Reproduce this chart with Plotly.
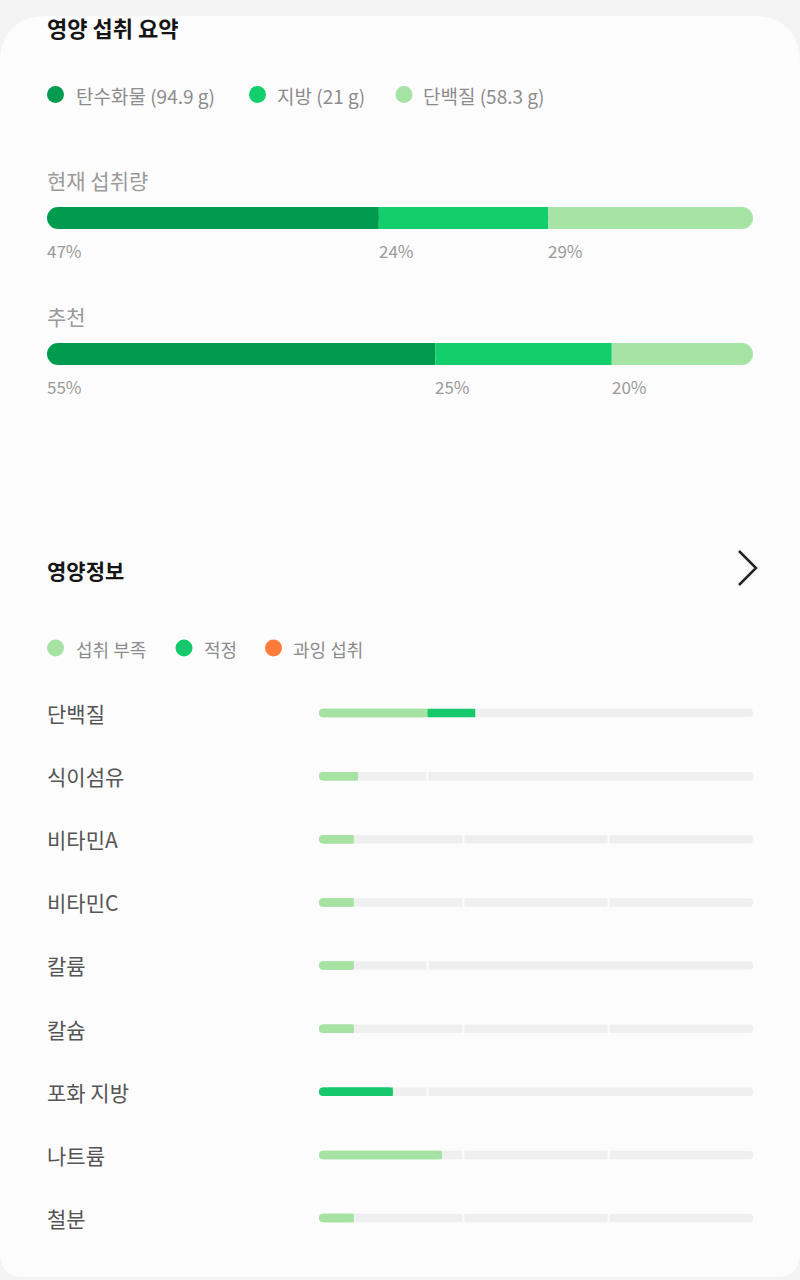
import plotly.graph_objects as go

# ---------------- DATA ----------------
macro_names = ["탄수화물", "지방", "단백질"]
macro_grams = [94.9, 21, 58.3]
summary_rows = ["현재 섭취량", "추천"]
current_pct = [47, 24, 29]
recommended_pct = [55, 25, 20]

nutrients = ["단백질", "식이섬유", "비타민A", "비타민C", "칼륨", "칼슘", "포화 지방", "나트륨", "철분"]
# zone boundaries (percent of the track) and status of each zone
zone_bounds = [[25], [25], [33.3, 66.7], [33.3, 66.7], [25], [33.3, 66.7], [25], [33.3, 66.7], [33.3, 66.7]]
zone_status = [
    ["low", "ok"], ["low", "ok"], ["low", "ok", "high"], ["low", "ok", "high"],
    ["low", "ok"], ["low", "ok", "high"], ["ok", "high"], ["low", "ok", "high"], ["low", "ok", "high"],
]
intake_pct = [36, 9, 8, 8, 8, 8, 17, 28.3, 8]
status_keys = ["low", "ok", "high"]
status_labels = ["섭취 부족", "적정", "과잉 섭취"]

# ---------------- STYLE ----------------
W, H = 800, 1280
FONT = "Noto Sans CJK KR"
macro_colors = ["#019b50", "#12cf6c", "#a5e4a5"]
status_colors = {"low": "#a6e3a3", "ok": "#14c86b", "high": "#ff7b3c"}
TRACK = "#efefef"
CARD = "#fcfcfc"
PAGE = "#f3f3f3"

TOP_X0, TOP_X1 = 47, 753
NUT_X0, NUT_X1 = 319, 753
TOP_R = 11          # px corner radius of summary bars
NUT_R = 4           # px corner radius of nutrient bars
GAP = 2             # px gap between track zones
top_r_u = TOP_R / (TOP_X1 - TOP_X0) * 100
nut_r_u = NUT_R / (NUT_X1 - NUT_X0) * 100
gap_u = GAP / (NUT_X1 - NUT_X0) * 100


def px(x):
    return x / W


def py(y):
    return 1 - y / H


fig = go.Figure()


def hbar(y, x, base, color, cr, width, xa, ya):
    fig.add_trace(go.Bar(
        y=y, x=x, base=base, orientation="h", width=width,
        marker=dict(color=color, cornerradius=cr, line=dict(width=0)),
        xaxis=xa, yaxis=ya, hoverinfo="skip", showlegend=False,
    ))


# ---- summary stacked bars ----
summary_vals = [current_pct, recommended_pct]
starts = [[sum(r[:k]) for k in range(3)] for r in summary_vals]
TOP_W = 22 / 136
# rounded caps at both outer ends
hbar(summary_rows, [r[0] for r in summary_vals], [0] * 2, macro_colors[0], TOP_R, TOP_W, "x", "y")
hbar(summary_rows, [r[2] for r in summary_vals], [s[2] for s in starts], macro_colors[2], TOP_R, TOP_W, "x", "y")
# square segments on top
for k in range(3):
    b = [s[k] for s in starts]
    v = [r[k] for r in summary_vals]
    if k == 0:
        b = [bb + top_r_u for bb in b]
        v = [vv - top_r_u for vv in v]
    if k == 2:
        v = [vv - top_r_u for vv in v]
    hbar(summary_rows, v, b, macro_colors[k], 0, TOP_W, "x", "y")

annotations = []
for r, row in enumerate(summary_rows):
    annotations.append(dict(x=0, y=row, xref="x", yref="y", yshift=38, xanchor="left", xshift=-2,
                            text=row, showarrow=False, font=dict(family=FONT, size=21, color="#9a9a9a")))
    for k in range(3):
        annotations.append(dict(x=starts[r][k], y=row, xref="x", yref="y", yshift=-32, xanchor="left", xshift=-2,
                                text=f"{summary_vals[r][k]}%", showarrow=False,
                                font=dict(family=FONT, size=17, color="#9a9a9a")))

# ---- nutrient bars ----
NUT_W = 8.5 / 63.125
# full rounded track
hbar(nutrients, [100] * len(nutrients), [0] * len(nutrients), TRACK, NUT_R, NUT_W, "x2", "y2")
# zone dividers
div_y, div_b = [], []
for name, bnds in zip(nutrients, zone_bounds):
    for bd in bnds:
        div_y.append(name)
        div_b.append(bd - gap_u / 2)
hbar(div_y, [gap_u] * len(div_y), div_b, CARD, 0, NUT_W * 1.2, "x2", "y2")

# intake fill
cap_y, cap_x, cap_c = [], [], []
seg_y, seg_x, seg_b, seg_c = [], [], [], []
for name, bnds, sts, val in zip(nutrients, zone_bounds, zone_status, intake_pct):
    edges = [0] + bnds + [100]
    for i in range(len(edges) - 1):
        a, b = edges[i], edges[i + 1]
        if val <= a:
            break
        e = min(val, b)
        col = status_colors[sts[i]]
        if i == 0:
            cap_y.append(name); cap_x.append(e); cap_c.append(col)
            a = a + nut_r_u
        seg_y.append(name); seg_b.append(a); seg_x.append(e - a); seg_c.append(col)
hbar(cap_y, cap_x, [0] * len(cap_y), cap_c, NUT_R, NUT_W, "x2", "y2")
hbar(seg_y, seg_x, seg_b, seg_c, 0, NUT_W, "x2", "y2")

for name in nutrients:
    annotations.append(dict(x=px(47), y=name, xref="paper", yref="y2", xanchor="left", xshift=-2,
                            text=name, showarrow=False, font=dict(family=FONT, size=21, color="#555555")))

# ---- titles ----
annotations.append(dict(x=px(47), y=py(27), xref="paper", yref="paper", xanchor="left", yanchor="middle",
                        xshift=-2, text="<b>영양 섭취 요약</b>", showarrow=False,
                        font=dict(family=FONT, size=22, color="#151515")))
annotations.append(dict(x=px(47), y=py(570), xref="paper", yref="paper", xanchor="left", yanchor="middle",
                        xshift=-2, text="<b>영양정보</b>", showarrow=False,
                        font=dict(family=FONT, size=21, color="#151515")))

shapes = []
# card background
r1, r2 = 48, 24
top, bot = 16, 1277
card_pts = (f"M {px(0)},{py(top + r1)} Q {px(0)},{py(top)} {px(r1)},{py(top)} "
            f"L {px(W - r1)},{py(top)} Q {px(W)},{py(top)} {px(W)},{py(top + r1)} "
            f"L {px(W)},{py(bot - r2)} Q {px(W)},{py(bot)} {px(W - r2)},{py(bot)} "
            f"L {px(r2)},{py(bot)} Q {px(0)},{py(bot)} {px(0)},{py(bot - r2)} Z")
shapes.append(dict(type="path", path=card_pts, xref="paper", yref="paper", fillcolor=CARD,
                   line=dict(width=0), layer="below"))
# chevron
shapes.append(dict(type="path", xref="paper", yref="paper",
                   path=f"M {px(739)},{py(551)} L {px(756)},{py(568)} L {px(739)},{py(585)}",
                   line=dict(color="#222222", width=2.5), layer="above"))

# ---- legends (dots + labels) ----
leg1_dot_x = [55.5, 257.5, 404]
leg1_text_x = [74, 275, 421]
leg1_y = 96
for k in range(3):
    cx = leg1_dot_x[k]
    shapes.append(dict(type="circle", xref="paper", yref="paper",
                       x0=px(cx - 8.5), x1=px(cx + 8.5), y0=py(leg1_y - 1.5 + 8.5), y1=py(leg1_y - 1.5 - 8.5),
                       fillcolor=macro_colors[k], line=dict(width=0)))
    annotations.append(dict(x=px(leg1_text_x[k]), y=py(leg1_y), xref="paper", yref="paper",
                            xanchor="left", yanchor="middle", text=f"{macro_names[k]} ({macro_grams[k]:g} g)",
                            showarrow=False, font=dict(family=FONT, size=19, color="#8c8c8c")))

leg2_dot_x = [55.5, 184, 273.5]
leg2_text_x = [74, 202, 291]
leg2_y = 649
for k, key in enumerate(status_keys):
    cx = leg2_dot_x[k]
    shapes.append(dict(type="circle", xref="paper", yref="paper",
                       x0=px(cx - 8.5), x1=px(cx + 8.5), y0=py(leg2_y - 1 + 8.5), y1=py(leg2_y - 1 - 8.5),
                       fillcolor=status_colors[key], line=dict(width=0)))
    annotations.append(dict(x=px(leg2_text_x[k]), y=py(leg2_y), xref="paper", yref="paper",
                            xanchor="left", yanchor="middle", text=status_labels[k],
                            showarrow=False, font=dict(family=FONT, size=18, color="#8c8c8c")))

# ---- layout ----
fig.update_layout(
    width=W, height=H, autosize=False,
    margin=dict(l=0, r=0, t=0, b=0),
    paper_bgcolor=PAGE, plot_bgcolor="rgba(0,0,0,0)",
    barmode="overlay", hovermode=False, showlegend=False,
    font=dict(family=FONT),
    xaxis=dict(domain=[px(TOP_X0), px(TOP_X1)], range=[0, 100], visible=False, anchor="y", fixedrange=True),
    yaxis=dict(domain=[py(354 + 68), py(218 - 68)], type="category", categoryorder="array",
               categoryarray=summary_rows, range=[1.5, -0.5], visible=False, anchor="x", fixedrange=True),
    xaxis2=dict(domain=[px(NUT_X0), px(NUT_X1)], range=[0, 100], visible=False, anchor="y2", fixedrange=True),
    yaxis2=dict(domain=[py(1218 + 31.5625), py(713 - 31.5625)], type="category", categoryorder="array",
                categoryarray=nutrients, range=[8.5, -0.5], visible=False, anchor="x2", fixedrange=True),
    annotations=annotations,
    shapes=shapes,
)

fig.write_html("out.html", config={"displayModeBar": False})
